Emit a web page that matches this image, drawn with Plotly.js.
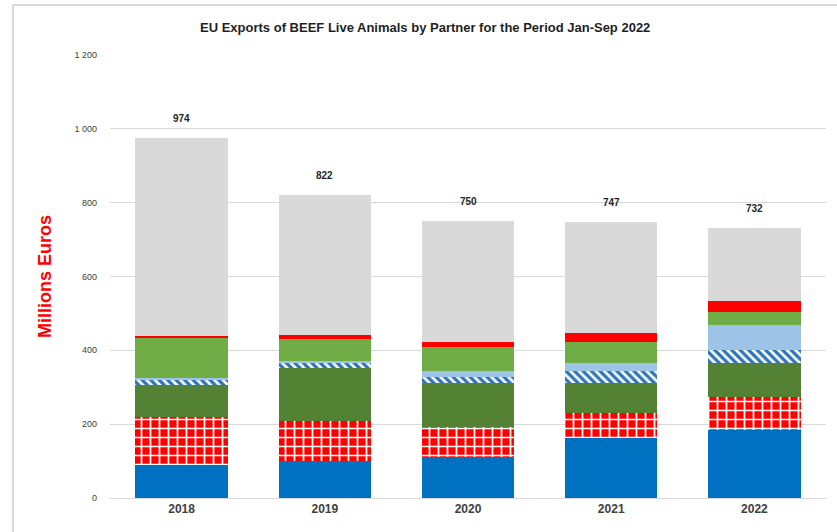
<!DOCTYPE html>
<html>
<head>
<meta charset="utf-8">
<script src="https://cdn.plot.ly/plotly-3.0.1.min.js"></script>
<style>html,body{margin:0;padding:0;background:#fff;}#chart{width:837px;height:532px;}</style>
</head>
<body>
<div id="chart"></div>
<script>
const years = ['2018', '2019', '2020', '2021', '2022'];
const totals = [974, 822, 750, 747, 732];
const seg1Blue = [89, 100, 110, 163, 184];
const seg2RedCheck = [131, 109, 81, 67, 89];
const seg3DarkGreen = [86, 142, 120, 82, 92];
const seg4BlueHatch = [14, 16, 18, 32, 36];
const seg5LightBlue = [6, 3, 15, 21, 68];
const seg6LightGreen = [108, 60, 66, 57, 34];
const seg7Red = [5, 12, 12, 26, 32];
const seg8Other = [535, 380, 328, 299, 197];
const yTicks = [0, 200, 400, 600, 800, 1000, 1200];

function bar(name, vals, color, pattern) {
  const m = {color: color, line: {width: 0}};
  if (pattern) m.pattern = pattern;
  return {type: 'bar', name: name, x: years, y: vals, marker: m, hoverinfo: 'x+y+name'};
}

const traces = [
  bar('Partner 1', seg1Blue, '#0070c0'),
  bar('Partner 2', seg2RedCheck, '#ff0000', {shape: '+', fgcolor: '#ffffff', bgcolor: '#ff0000', size: 9, solidity: 0.35, fillmode: 'replace'}),
  bar('Partner 3', seg3DarkGreen, '#548235'),
  bar('Partner 4', seg4BlueHatch, '#2e75b6', {shape: '\\', fgcolor: '#ffffff', bgcolor: '#2e75b6', size: 6, solidity: 0.45, fillmode: 'replace'}),
  bar('Partner 5', seg5LightBlue, '#9dc3e6'),
  bar('Partner 6', seg6LightGreen, '#70ad47'),
  bar('Partner 7', seg7Red, '#ff0000'),
  bar('Others', seg8Other, '#d9d9d9')
];

// total labels placed above each bar's total
const annotations = totals.map((v, i) => ({
  xref: 'x', yref: 'y', x: i, y: v, text: '<b>' + v + '</b>', showarrow: false,
  yanchor: 'bottom', yshift: 12,
  font: {family: 'Liberation Sans, Arial, sans-serif', size: 10, color: '#262626'}
}));

const layout = {
  width: 837, height: 532,
  margin: {l: 110, r: 11, t: 55, b: 34},
  paper_bgcolor: '#ffffff', plot_bgcolor: '#ffffff',
  barmode: 'stack', bargap: 0.355,
  showlegend: false,
  separators: ', ',
  title: {
    text: '<b>EU Exports of BEEF Live Animals by Partner for the Period Jan-Sep 2022</b>',
    x: 0.508, xanchor: 'center', y: 0.948, yanchor: 'middle',
    font: {family: 'Liberation Sans, Arial, sans-serif', size: 13, color: '#1f1f1f'}
  },
  xaxis: {
    type: 'category', range: [-0.5, 4.5],
    showgrid: false, showline: true, linecolor: '#d9d9d9', linewidth: 1,
    ticks: '', tickfont: {family: 'Liberation Sans, Arial, sans-serif', size: 12, color: '#404040', weight: 'bold'},
    ticklen: 0
  },
  yaxis: {
    range: [0, 1200], tickvals: yTicks, tickformat: ',d', separatethousands: true,
    showgrid: true, gridcolor: '#d9d9d9', gridwidth: 1, zeroline: false,
    showline: false, ticks: '',
    tickfont: {family: 'Liberation Sans, Arial, sans-serif', size: 9, color: '#404040'},
    ticklabelstandoff: 12,
    title: {text: '<b>Millions Euros</b>', standoff: 18,
      font: {family: 'Liberation Sans, Arial, sans-serif', size: 18, color: '#ff0000'}}
  },
  annotations: annotations,
  shapes: [
    {type: 'line', xref: 'paper', yref: 'paper', x0: -0.1355, x1: -0.1355, y0: -0.1, y1: 1.113, line: {color: '#d9d9d9', width: 2}},
    {type: 'line', xref: 'paper', yref: 'paper', x0: -0.1355, x1: 1.05, y0: 1.113, y1: 1.113, line: {color: '#d9d9d9', width: 2}}
  ]
};

Plotly.newPlot('chart', traces, layout, {displayModeBar: false, staticPlot: true});
</script>
</body>
</html>
